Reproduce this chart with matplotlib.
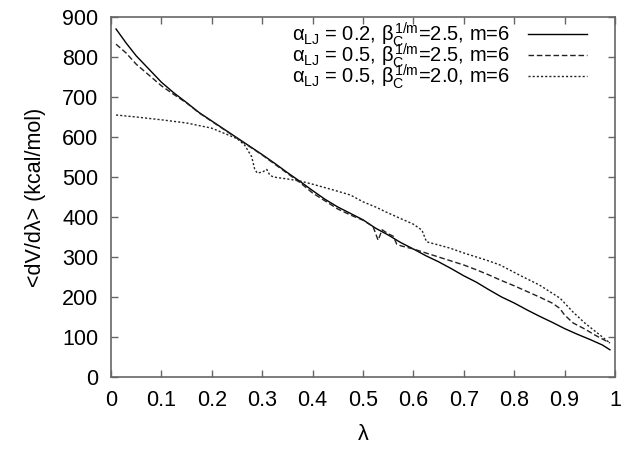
import matplotlib
matplotlib.use("Agg")
import matplotlib.pyplot as plt
import numpy as np

# lambda / <dV/dlambda>
x_a = [0.01, 0.03, 0.05, 0.075, 0.1, 0.125, 0.15, 0.175, 0.2, 0.225, 0.25, 0.275,
       0.3, 0.325, 0.35, 0.375, 0.4, 0.425, 0.45, 0.475, 0.5, 0.525, 0.55, 0.575,
       0.6, 0.625, 0.65, 0.675, 0.7, 0.725, 0.75, 0.775, 0.8, 0.825, 0.85, 0.875,
       0.9, 0.925, 0.95, 0.975, 0.99]
y_a = [870, 835, 803, 770, 737, 710, 686, 661, 640, 619, 598, 577,
       556, 534, 511, 489, 466, 444, 425, 409, 393, 372, 355, 336,
       320, 303, 288, 271, 253, 237, 218, 200, 185, 168, 152, 137,
       121, 107, 94, 80, 68]

x_b = [0.01, 0.03, 0.05, 0.075, 0.1, 0.125, 0.15, 0.175, 0.2, 0.225, 0.25, 0.275,
       0.3, 0.325, 0.35, 0.375, 0.4, 0.425, 0.45, 0.475, 0.5, 0.52, 0.53, 0.538,
       0.55, 0.56, 0.567, 0.575, 0.6, 0.625, 0.65, 0.675, 0.7, 0.725, 0.75, 0.775,
       0.8, 0.825, 0.85, 0.875, 0.89, 0.9, 0.917, 0.94, 0.96, 0.975, 0.99]
y_b = [832, 810, 782, 755, 728, 706, 685, 660, 639, 618, 597, 576,
       555, 532, 509, 486, 460, 440, 420, 405, 392, 376, 342, 368,
       358, 352, 332, 328, 320, 310, 300, 290, 280, 268, 255, 241,
       228, 214, 200, 185, 172, 155, 135, 120, 105, 95, 85]

x_c = [0.01, 0.05, 0.1, 0.15, 0.2, 0.25, 0.265, 0.279, 0.285, 0.29, 0.3, 0.309,
       0.315, 0.322, 0.35, 0.375, 0.4, 0.44, 0.475, 0.5, 0.525, 0.55, 0.573,
       0.6, 0.617, 0.626, 0.65, 0.673, 0.7, 0.75, 0.772, 0.81, 0.85, 0.891,
       0.917, 0.94, 0.965, 0.99]
y_c = [655, 650, 643, 635, 622, 596, 580, 551, 520, 510, 512, 519,
       505, 500, 495, 490, 482, 468, 455, 438, 425, 410, 397,
       382, 367, 338, 330, 322, 310, 290, 280, 255, 230, 197,
       162, 135, 110, 85]

labels = [
    r"$\alpha_{\rm LJ}$ = 0.2, $\beta_{\rm C}^{\rm 1/m}$=2.5, m=6",
    r"$\alpha_{\rm LJ}$ = 0.5, $\beta_{\rm C}^{\rm 1/m}$=2.5, m=6",
    r"$\alpha_{\rm LJ}$ = 0.5, $\beta_{\rm C}^{\rm 1/m}$=2.0, m=6",
]

plt.rcParams["font.family"] = ["Liberation Sans", "DejaVu Sans"]
plt.rcParams["mathtext.fontset"] = "custom"
plt.rcParams["mathtext.rm"] = "Liberation Sans"
plt.rcParams["mathtext.it"] = "Liberation Sans"
plt.rcParams["mathtext.bf"] = "Liberation Sans:bold"

fig = plt.figure(figsize=(6.29, 4.51), dpi=100)
ax = fig.add_axes([111 / 629, 74 / 451, 504 / 629, 360 / 451])

ax.plot(x_a, y_a, color="black", lw=1.0, label=labels[0])
ax.plot(x_b, y_b, color="#222222", lw=1.0, dashes=(4, 2), label=labels[1])
ax.plot(x_c, y_c, color="#222222", lw=1.0, dashes=(1.5, 1.5), label=labels[2])

ax.set_xlim(0, 1)
ax.set_ylim(0, 900)
ax.set_xticks(np.arange(0, 1.01, 0.1))
ax.set_xticklabels(["0", "0.1", "0.2", "0.3", "0.4", "0.5", "0.6", "0.7", "0.8", "0.9", "1"])
ax.set_yticks(np.arange(0, 901, 100))
ax.tick_params(direction="in", top=True, right=True, length=5, width=1,
               color="#666666", labelsize=15.5, pad=9)
for s in ax.spines.values():
    s.set_color("#666666")
    s.set_linewidth(1.2)

ax.set_xlabel("λ", fontsize=15.5, labelpad=10)
ax.set_ylabel("<dV/dλ> (kcal/mol)", fontsize=15.5, labelpad=12)

# gnuplot-style key: text first, rows packed tightly like the original
ax.legend(loc="upper right", frameon=False, markerfirst=False, fontsize=14.5,
          handlelength=2.9, handletextpad=0.9, labelspacing=-0.4,
          borderpad=0, borderaxespad=0, bbox_to_anchor=(0.944, 0.99))

fig.savefig("out.png", dpi=100)
